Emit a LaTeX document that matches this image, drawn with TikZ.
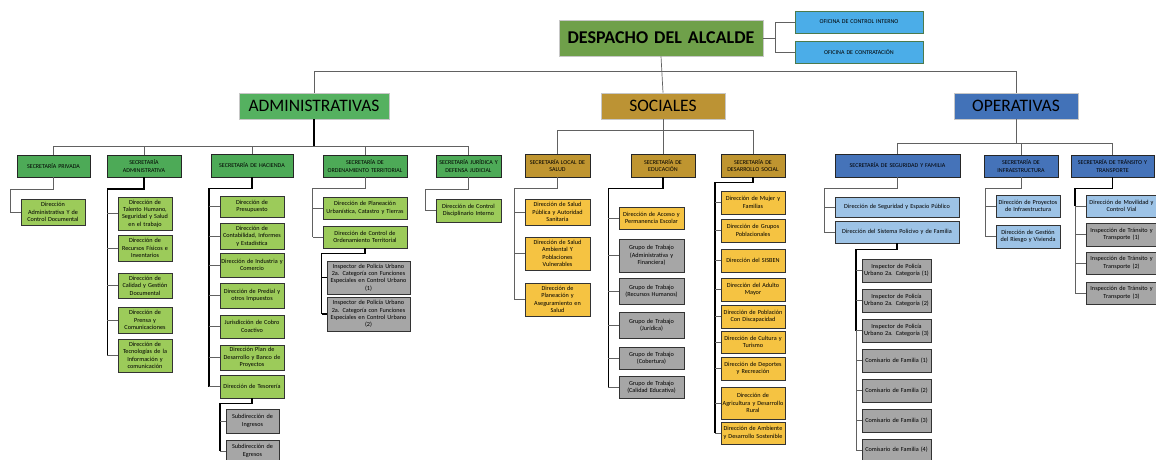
\documentclass[tikz,border=0pt]{standalone}
\usepackage{fontspec}
\setmainfont{Carlito}
\definecolor{despG}{HTML}{6FA04A}
\definecolor{offB}{HTML}{4BADE8}
\definecolor{admG}{HTML}{55B160}
\definecolor{secG}{HTML}{4DAA57}
\definecolor{dirG}{HTML}{9CCB5A}
\definecolor{socY}{HTML}{BC9334}
\definecolor{secY}{HTML}{BF9530}
\definecolor{dirY}{HTML}{F5C342}
\definecolor{opeB}{HTML}{4272B8}
\definecolor{secB}{HTML}{4573B9}
\definecolor{dirB}{HTML}{9DC3E6}
\definecolor{gryB}{HTML}{A6A6A6}
\newcommand\orgb[7]{%
 \pgfmathsetmacro\obw{#5-(#3)}%
 \pgfmathsetmacro\obh{#6-(#4)}%
 \pgfmathsetmacro\obx{(#3+#5)/2}%
 \pgfmathsetmacro\oby{(#4+#6)/2}%
 \pgfmathsetmacro\obt{\obw-2}%
 \node[#2, minimum width=\obw pt, minimum height=\obh pt, text width=\obt pt] (#1) at (\obx,\oby) {#7};}
\tikzset{
 base/.style={inner sep=0pt, align=center, font=\fontsize{6.2}{7.4}\selectfont},
 top/.style={base, draw=black!22, line width=0.6pt},
 off/.style={base, fill=offB, draw=black!55!green!40!gray, line width=0.8pt, font=\fontsize{6}{7}\selectfont},
 ttl/.style={top, font=\fontsize{17.5}{20}\selectfont},
 secbox/.style={base, draw=black!85, line width=0.8pt, font=\fontsize{6}{7.2}\selectfont},
 dirbox/.style={base, draw=black!80, line width=0.8pt},
 sg/.style={secbox, fill=secG}, sy/.style={secbox, fill=secY}, sb/.style={secbox, fill=secB},
 dg/.style={dirbox, fill=dirG}, dy/.style={dirbox, fill=dirY}, db/.style={dirbox, fill=dirB},
 dgr/.style={dirbox, fill=gryB},
 ln/.style={draw=black!62, line width=0.7pt},
 lnk/.style={draw=black, line width=1.1pt},
}
\begin{document}
\begin{tikzpicture}[x=1pt,y=-1pt]
\useasboundingbox (0,0) rectangle (1156,460);
% ---------- top ----------
\orgb{desp}{top, fill=despG, font=\fontsize{18}{20}\selectfont\bfseries}{559}{20}{763}{56}{DESPACHO DEL ALCALDE}
\orgb{oci}{off}{795}{11}{923}{33}{OFICINA DE CONTROL INTERNO}
\orgb{oco}{off}{795}{41}{923}{63}{OFICINA DE CONTRATACIÓN}
\coordinate (dj) at (775,38);
\draw[ln] (desp.east) -- (dj);
\draw[ln] (oci.west) -| (dj);
\draw[ln] (oco.west) -| (dj);
% ---------- level 2 ----------
\orgb{adm}{ttl, fill=admG}{239}{93}{389}{119}{ADMINISTRATIVAS}
\orgb{soc}{ttl, fill=socY}{601}{93}{725}{119}{SOCIALES}
\orgb{ope}{ttl, fill=opeB}{954}{93}{1078}{119}{OPERATIVAS}
\coordinate (tl) at (0,71);
\draw[ln] (adm.north) -- (adm.north |- tl) -- (ope.north |- tl) -- (ope.north);
\draw[ln] (desp.south) -- (soc.north);
% ---------- level 3 ----------
\orgb{spriv}{sg}{17}{155}{90}{177}{SECRETARÍA PRIVADA}
\orgb{sadm}{sg}{107}{155}{181}{177}{SECRETARÍA\\ADMINISTRATIVA}
\orgb{shac}{sg}{211}{154}{293}{177}{SECRETARÍA DE HACIENDA}
\orgb{sord}{sg}{323}{155}{407}{177}{SECRETARÍA DE\\ORDENAMIENTO TERRITORIAL}
\orgb{sjur}{sg}{436}{155}{501}{177}{SECRETARÍA JURÍDICA Y\\DEFENSA JUDICIAL}
\orgb{ssal}{sy}{525}{154}{590}{177}{SECRETARÍA LOCAL DE\\SALUD}
\orgb{sedu}{sy}{631}{154}{695}{177}{SECRETARÍA DE\\EDUCACIÓN}
\orgb{sdes}{sy}{721}{154}{785}{177}{SECRETARÍA DE\\DESARROLLO SOCIAL}
\orgb{sseg}{sb}{835}{154}{960}{177}{SECRETARÍA DE SEGURIDAD Y FAMILIA}
\orgb{sinf}{sb}{984}{155}{1058}{177}{SECRETARÍA DE\\INFRAESTRUCTURA}
\orgb{stra}{sb}{1071}{155}{1154}{177}{SECRETARÍA DE TRÁNSITO Y\\TRANSPORTE}
\coordinate (ba) at (0,146);
\draw[lnk] (adm.south) -- (adm.south |- ba);
\draw[ln] (spriv.north) -- (spriv.north |- ba) -- (sjur.north |- ba) -- (sjur.north);
\foreach \n in {sadm,shac,sord} \draw[ln] (\n.north) -- (\n.north |- ba);
\coordinate (bs) at (0,130);
\draw[ln] (soc.south) -- (soc.south |- bs);
\draw[ln] (ssal.north) -- (ssal.north |- bs) -- (sdes.north |- bs) -- (sdes.north);
\draw[ln] (sedu.north) -- (sedu.north |- bs);
\coordinate (bo) at (0,143);
\draw[ln] (ope.south) -- (ope.south |- bo);
\draw[ln] (sseg.north) -- (sseg.north |- bo) -- (stra.north |- bo) -- (stra.north);
\draw[ln] (sinf.north) -- (sinf.north |- bo);
% ---------- Privada ----------
\orgb{p1}{dg}{21}{199}{85}{225}{Dirección\\Administrativa Y de\\Control Documental}
\coordinate (e-priv) at (10,189);
\draw[ln] (spriv.south) |- (e-priv) |- (p1.west);
% ---------- Administrativa ----------
\orgb{a1}{dg}{118}{197}{172}{230}{Dirección de\\Talento Humano,\\Seguridad y Salud\\en el trabajo}
\orgb{a2}{dg}{118}{235}{172}{261}{Dirección de\\Recursos Físicos e\\Inventarios}
\orgb{a3}{dg}{118}{273}{172}{298}{Dirección de\\Calidad y Gestión\\Documental}
\orgb{a4}{dg}{118}{307}{172}{333}{Dirección de\\Prensa y\\Comunicaciones}
\orgb{a5}{dg}{118}{339}{172}{372}{Dirección de\\Tecnologías de la\\Información y\\comunicación}
\coordinate (e-adm) at (107.3,189);
\draw[lnk] (sadm.south) |- (e-adm) -- (e-adm |- a5.west);
\foreach \c in {a1,a2,a3,a4,a5} \draw[ln] (e-adm |- \c.west) -- (\c.west);
% ---------- Hacienda ----------
\orgb{h1}{dg}{220}{196}{284}{217}{Dirección de\\Presupuesto}
\orgb{h2}{dg}{220}{223}{284}{249}{Dirección de\\Contabilidad, Informes\\y Estadística}
\orgb{h3}{dg}{220}{253}{284}{277}{Dirección de Industria y\\Comercio}
\orgb{h4}{dg}{220}{283}{284}{308}{Dirección de Predial y\\otros Impuestos}
\orgb{h5}{dg}{220}{315}{284}{338}{Jurisdicción de Cobro\\Coactivo}
\orgb{h6}{dg}{220}{345}{284}{370}{Dirección Plan de\\Desarrollo y Banco de\\Proyectos}
\orgb{h7}{dg}{220}{375}{284}{398}{Dirección de Tesorería}
\coordinate (e-hac) at (209,188.3);
\draw[lnk] (shac.south) |- (e-hac) -- (e-hac |- h7.west);
\foreach \c in {h1,h2,h3,h4,h5,h6,h7} \draw[ln] (e-hac |- \c.west) -- (\c.west);
\orgb{t1}{dgr}{226}{409}{279}{433}{Subdirección de\\Ingresos}
\orgb{t2}{dgr}{226}{440}{279}{462}{Subdirección de\\Egresos}
\coordinate (e-tes) at (220,403.3);
\draw[lnk] (h7.south) |- (e-tes) -- (e-tes |- t2.west);
\foreach \c in {t1,t2} \draw[ln] (e-tes |- \c.west) -- (\c.west);
% ---------- Ordenamiento ----------
\orgb{o1}{dg}{323}{197}{407}{219}{Dirección de Planeación\\Urbanística, Catastro y Tierras}
\orgb{o2}{dg}{323}{226}{407}{248}{Dirección de Control de\\Ordenamiento Territorial}
\coordinate (e-ord) at (312.7,188.3);
\draw[ln] (sord.south) |- (e-ord) -- (e-ord |- o2.west);
\foreach \c in {o1,o2} \draw[ln] (e-ord |- \c.west) -- (\c.west);
\orgb{oi1}{dgr}{327}{261}{410}{294}{Inspector de Policía Urbano\\2a. Categoría con Funciones\\Especiales en Control Urbano\\(1)}
\orgb{oi2}{dgr}{327}{297}{410}{331}{Inspector de Policía Urbano\\2a. Categoría con Funciones\\Especiales en Control Urbano\\(2)}
\coordinate (e-oc) at (321.7,253.3);
\draw[lnk] (o2.south) |- (e-oc) -- (e-oc |- oi2.west);
\foreach \c in {oi1,oi2} \draw[lnk] (e-oc |- \c.west) -- (\c.west);
% ---------- Juridica ----------
\orgb{j1}{dg}{436}{199}{501}{222}{Dirección de Control\\Disciplinario Interno}
\coordinate (e-jur) at (425,189.3);
\draw[ln] (sjur.south) |- (e-jur) |- (j1.west);
% ---------- Salud ----------
\orgb{s1}{dy}{525}{199}{590}{225}{Dirección de Salud\\Pública y Autoridad\\Sanitaria}
\orgb{s2}{dy}{525}{237}{590}{270}{Dirección de Salud\\Ambiental Y\\Poblaciones\\Vulnerables}
\orgb{s3}{dy}{525}{283}{590}{316}{Dirección de\\Planeación y\\Aseguramiento en\\Salud}
\coordinate (e-sal) at (514,188.3);
\draw[ln] (ssal.south) |- (e-sal) -- (e-sal |- s3.west);
\foreach \c in {s1,s2,s3} \draw[ln] (e-sal |- \c.west) -- (\c.west);
% ---------- Educacion ----------
\orgb{ed1}{dy}{619}{207}{684}{229}{Dirección de Acceso y\\Permanencia Escolar}
\orgb{ed2}{dgr}{619}{239}{684}{272}{Grupo de Trabajo\\(Administrativa y\\Financiera)}
\orgb{ed3}{dgr}{619}{278}{684}{304}{Grupo de Trabajo\\(Recursos Humanos)}
\orgb{ed4}{dgr}{619}{312}{684}{338}{Grupo de Trabajo\\(Jurídica)}
\orgb{ed5}{dgr}{619}{347}{684}{369}{Grupo de Trabajo\\(Cobertura)}
\orgb{ed6}{dgr}{619}{376}{684}{398}{Grupo de Trabajo\\(Calidad Educativa)}
\coordinate (e-edu) at (608.3,188.3);
\draw[lnk] (sedu.south) |- (e-edu) -- (e-edu |- ed6.west);
\foreach \c in {ed1,ed2,ed3,ed4,ed5,ed6} \draw[ln] (e-edu |- \c.west) -- (\c.west);
% ---------- Desarrollo social ----------
\orgb{ds1}{dy}{721}{191}{785}{214}{Dirección de Mujer y\\Familias}
\orgb{ds2}{dy}{721}{219}{785}{242}{Dirección de  Grupos\\Poblacionales}
\orgb{ds3}{dy}{721}{249}{785}{272}{Dirección del SISBEN}
\orgb{ds4}{dy}{721}{278}{785}{301}{Dirección del Adulto\\Mayor}
\orgb{ds5}{dy}{721}{305}{785}{328}{Dirección de Población\\Con Discapacidad}
\orgb{ds6}{dy}{721}{331}{785}{353}{Dirección de Cultura  y\\Turismo}
\orgb{ds7}{dy}{721}{357}{785}{380}{Dirección de Deportes\\y Recreación}
\orgb{ds8}{dy}{721}{387}{785}{419}{Dirección de\\Agricultura y Desarrollo\\Rural}
\orgb{ds9}{dy}{721}{422}{785}{444}{Dirección de Ambiente\\y Desarrollo Sostenible}
\coordinate (e-des) at (715,182.7);
\draw[lnk] (sdes.south) |- (e-des) -- (e-des |- ds9.west);
\foreach \c in {ds1,ds2,ds3,ds4,ds5,ds6,ds7,ds8,ds9} \draw[ln] (e-des |- \c.west) -- (\c.west);
% ---------- Seguridad ----------
\orgb{sg1}{db}{835}{197}{959}{217}{Dirección de Seguridad y Espacio Público}
\orgb{sg2}{db}{835}{221}{959}{243}{Dirección del Sistema Policivo y de Familia}
\coordinate (e-seg) at (824,188.3);
\draw[ln] (sseg.south) |- (e-seg) -- (e-seg |- sg2.west);
\foreach \c in {sg1,sg2} \draw[ln] (e-seg |- \c.west) -- (\c.west);
\orgb{pv1}{dgr}{862}{259}{931}{282}{Inspector de Policía\\Urbano 2a. Categoría (1)}
\orgb{pv2}{dgr}{862}{289}{931}{312}{Inspector de Policía\\Urbano 2a. Categoría (2)}
\orgb{pv3}{dgr}{862}{319}{931}{342}{Inspector de Policía\\Urbano 2a. Categoría (3)}
\orgb{pv4}{dgr}{862}{349}{931}{372}{Comisario de Familia (1)}
\orgb{pv5}{dgr}{862}{379}{931}{402}{Comisario de Familia (2)}
\orgb{pv6}{dgr}{862}{409}{931}{432}{Comisario de Familia (3)}
\orgb{pv7}{dgr}{862}{439}{931}{461}{Comisario de Familia (4)}
\coordinate (e-pol) at (856,249.3);
\draw[lnk] (sg2.south) |- (e-pol) -- (e-pol |- pv3.west);
\draw[ln] (e-pol |- pv3.west) -- (e-pol |- pv7.west);
\foreach \c in {pv1,pv2,pv3,pv4,pv5,pv6,pv7} \draw[ln] (e-pol |- \c.west) -- (\c.west);
% ---------- Infraestructura ----------
\orgb{in1}{db}{996}{195}{1060}{217}{Dirección de Proyectos\\de Infraestructura}
\orgb{in2}{db}{996}{225}{1060}{248}{Dirección de Gestión\\del Riesgo y Vivienda}
\coordinate (e-inf) at (985,188.3);
\draw[ln] (sinf.south) |- (e-inf) -- (e-inf |- in2.west);
\foreach \c in {in1,in2} \draw[ln] (e-inf |- \c.west) -- (\c.west);
% ---------- Transito ----------
\orgb{tr1}{db}{1086}{195}{1157}{217}{Dirección de Movilidad y\\Control Vial}
\orgb{tr2}{dgr}{1086}{223}{1157}{246}{Inspección de Tránsito y\\Transporte (1)}
\orgb{tr3}{dgr}{1086}{252}{1157}{274}{Inspección de Tránsito y\\Transporte (2)}
\orgb{tr4}{dgr}{1086}{282}{1157}{304}{Inspección de Tránsito y\\Transporte (3)}
\coordinate (e-tra) at (1075,188.3);
\draw[lnk] (stra.south) |- (e-tra) -- (e-tra |- tr1.west);
\draw[ln] (e-tra |- tr1.west) -- (e-tra |- tr4.west);
\foreach \c in {tr1,tr2,tr3,tr4} \draw[ln] (e-tra |- \c.west) -- (\c.west);
\end{tikzpicture}
\end{document}
